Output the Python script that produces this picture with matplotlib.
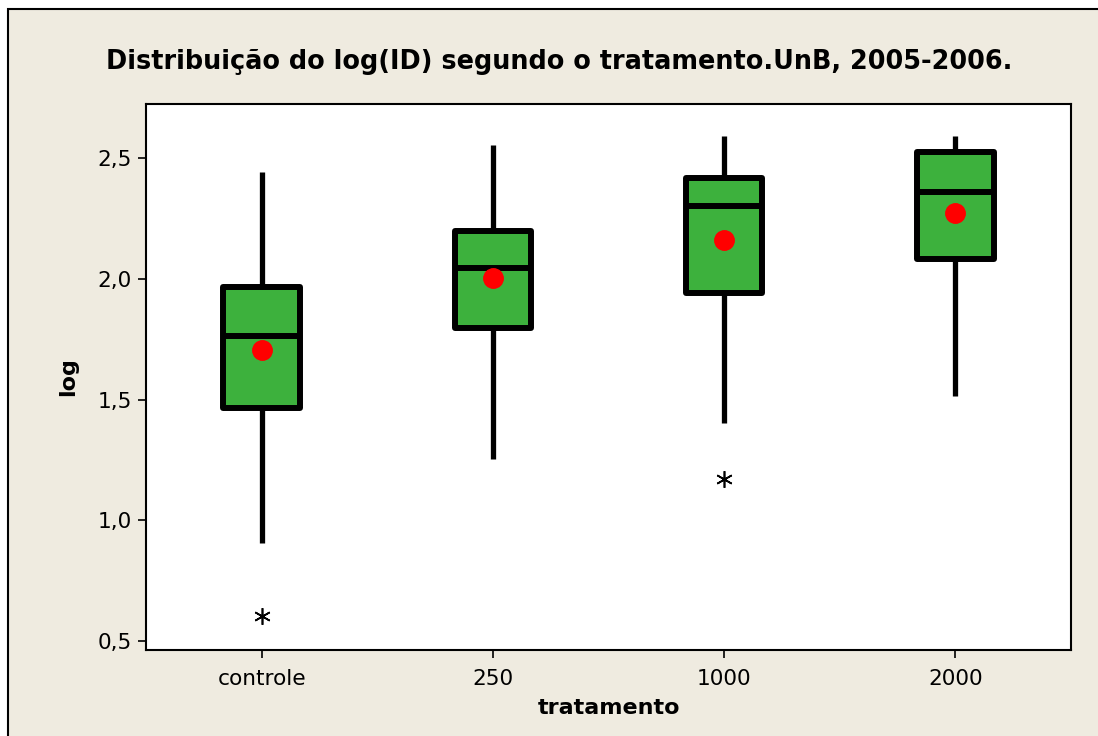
import matplotlib
matplotlib.use("Agg")
import matplotlib.pyplot as plt
from matplotlib.patches import Rectangle

categories = ["controle", "250", "1000", "2000"]
q1 = [1.464, 1.796, 1.941, 2.082]
median = [1.763, 2.044, 2.301, 2.359]
q3 = [1.966, 2.198, 2.417, 2.525]
whisker_low = [0.905, 1.253, 1.402, 1.514]
whisker_high = [2.442, 2.554, 2.591, 2.591]
means = [1.705, 2.003, 2.160, 2.272]
outliers = [[0.603], [], [1.170], []]

yticks = [0.5, 1.0, 1.5, 2.0, 2.5]
ytick_labels = ["0,5", "1,0", "1,5", "2,0", "2,5"]

title = "Distribuição do log(ID) segundo o tratamento.UnB, 2005-2006."
xlabel = "tratamento"
ylabel = "log"

BG = "#EFEBE0"
GREEN = "#3DB13D"

fig = plt.figure(figsize=(10.98, 7.36), dpi=100)
fig.patch.set_facecolor("white")
W, H = 1098, 736

bg_ax = fig.add_axes([0, 0, 1, 1], zorder=-5)
bg_ax.set_axis_off()
bg_ax.set_xlim(0, 1)
bg_ax.set_ylim(0, 1)
bg_ax.add_patch(Rectangle((8 / W, -0.05), 1.1, 1 - 9 / H + 0.05,
                          transform=bg_ax.transAxes, facecolor=BG,
                          edgecolor="black", linewidth=1.5))

ax = fig.add_axes([146 / W, 1 - 650 / H, (1071 - 146) / W, (650 - 104) / H],
                  zorder=1)
ax.set_facecolor("white")

stats = []
for i in range(len(categories)):
    stats.append(dict(med=median[i], q1=q1[i], q3=q3[i],
                      whislo=whisker_low[i], whishi=whisker_high[i],
                      fliers=outliers[i], mean=means[i], label=categories[i]))

positions = list(range(1, len(categories) + 1))
ax.bxp(stats, positions=positions, widths=0.33, patch_artist=True,
       showcaps=False, showmeans=True, showfliers=True,
       boxprops=dict(facecolor=GREEN, edgecolor="black", linewidth=4.3,
                     joinstyle="round"),
       medianprops=dict(color="black", linewidth=4.3),
       whiskerprops=dict(color="black", linewidth=3.8, solid_capstyle="butt"),
       meanprops=dict(marker="o", markerfacecolor="red", markeredgecolor="red",
                      markersize=14),
       flierprops=dict(marker=(6, 2, 0), markeredgecolor="black",
                       markerfacecolor="black", markersize=12,
                       markeredgewidth=1.2))

ax.set_xlim(0.5, 4.5)
ax.set_ylim(0.463, 2.724)
ax.set_yticks(yticks)
ax.set_yticklabels(ytick_labels)
ax.set_xticks(positions)
ax.set_xticklabels(categories)
ax.tick_params(axis="both", direction="out", length=6, width=1.2,
               labelsize=15.6, pad=4)
ax.tick_params(axis="x", pad=8)
for s in ax.spines.values():
    s.set_linewidth(1.5)

ax.set_xlabel(xlabel, fontsize=16, fontweight="bold", labelpad=6)
ax.set_ylabel(ylabel, fontsize=16, fontweight="bold", labelpad=14)
fig.text((107 + 1012) / 2 / W, 1 - 62 / H, title, ha="center", va="center",
         fontsize=18.4, fontweight="bold")

fig.savefig("out.png", dpi=100, facecolor=fig.get_facecolor())
